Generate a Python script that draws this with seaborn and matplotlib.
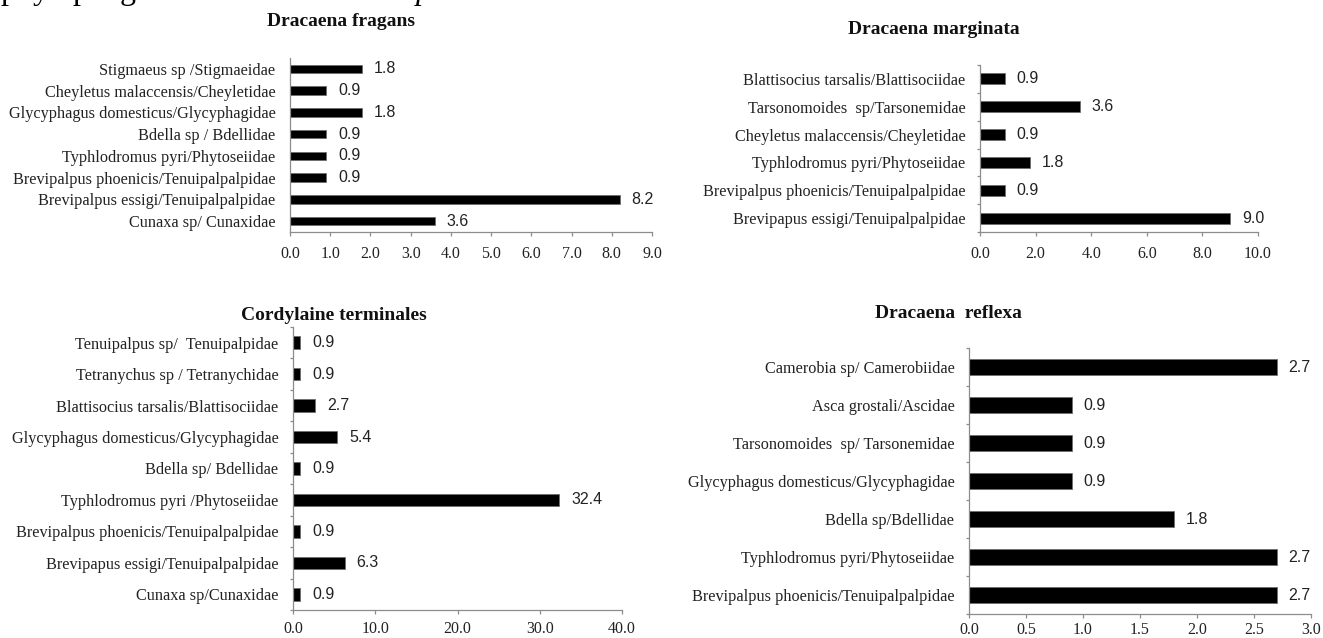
import matplotlib
matplotlib.use("Agg")
import matplotlib.pyplot as plt
import seaborn as sns
import numpy as np
import pandas as pd
from matplotlib.ticker import FixedLocator, FormatStrFormatter

sns.set_theme(style="white")
plt.rcParams["font.family"] = ["Liberation Serif", "DejaVu Serif"]
plt.rcParams["mathtext.fontset"] = "custom"
plt.rcParams["mathtext.rm"] = "Liberation Serif"
plt.rcParams["mathtext.it"] = "Liberation Serif:italic"

# ---- data -------------------------------------------------------------
fragans_species = [
    "Stigmaeus sp /Stigmaeidae",
    "Cheyletus malaccensis/Cheyletidae",
    "Glycyphagus domesticus/Glycyphagidae",
    "Bdella sp / Bdellidae",
    "Typhlodromus pyri/Phytoseiidae",
    "Brevipalpus phoenicis/Tenuipalpalpidae",
    "Brevipalpus essigi/Tenuipalpalpidae",
    "Cunaxa sp/ Cunaxidae",
]
fragans_values = [1.8, 0.9, 1.8, 0.9, 0.9, 0.9, 8.2, 3.6]

marginata_species = [
    "Blattisocius tarsalis/Blattisociidae",
    "Tarsonomoides  sp/Tarsonemidae",
    "Cheyletus malaccensis/Cheyletidae",
    "Typhlodromus pyri/Phytoseiidae",
    "Brevipalpus phoenicis/Tenuipalpalpidae",
    "Brevipapus essigi/Tenuipalpalpidae",
]
marginata_values = [0.9, 3.6, 0.9, 1.8, 0.9, 9.0]

cordyline_species = [
    "Tenuipalpus sp/  Tenuipalpidae",
    "Tetranychus sp / Tetranychidae",
    "Blattisocius tarsalis/Blattisociidae",
    "Glycyphagus domesticus/Glycyphagidae",
    "Bdella sp/ Bdellidae",
    "Typhlodromus pyri /Phytoseiidae",
    "Brevipalpus phoenicis/Tenuipalpalpidae",
    "Brevipapus essigi/Tenuipalpalpidae",
    "Cunaxa sp/Cunaxidae",
]
cordyline_values = [0.9, 0.9, 2.7, 5.4, 0.9, 32.4, 0.9, 6.3, 0.9]

reflexa_species = [
    "Camerobia sp/ Camerobiidae",
    "Asca grostali/Ascidae",
    "Tarsonomoides  sp/ Tarsonemidae",
    "Glycyphagus domesticus/Glycyphagidae",
    "Bdella sp/Bdellidae",
    "Typhlodromus pyri/Phytoseiidae",
    "Brevipalpus phoenicis/Tenuipalpalpidae",
]
reflexa_values = [2.7, 0.9, 0.9, 0.9, 1.8, 2.7, 2.7]

fragans_ticks = [0, 1, 2, 3, 4, 5, 6, 7, 8, 9]
marginata_ticks = [0, 2, 4, 6, 8, 10]
cordyline_ticks = [0, 10, 20, 30, 40]
reflexa_ticks = [0, 0.5, 1.0, 1.5, 2.0, 2.5, 3.0]

# ---- figure -----------------------------------------------------------
W, H = 1323, 638
fig = plt.figure(figsize=(W / 100, H / 100), dpi=100)

SPINE = "#8c8c8c"


def px_axes(left, right, top, bottom):
    return fig.add_axes([left / W, 1 - bottom / H, (right - left) / W, (bottom - top) / H])


def panel(ax, species, values, ticks, boundary_ticks=True, xpad=7):
    df = pd.DataFrame({"species": species, "value": values})
    sns.barplot(data=df, x="value", y="species", orient="h", color="black",
                saturation=1, width=0.4, edgecolor="#6e6e6e", linewidth=0.6, ax=ax)
    ax.set_xlim(ticks[0], ticks[-1])
    ax.set_ylim(len(species) - 0.5, -0.5)
    ax.set_xlabel("")
    ax.set_ylabel("")
    ax.xaxis.set_major_locator(FixedLocator(ticks))
    ax.xaxis.set_major_formatter(FormatStrFormatter("%.1f"))
    for s in ("top", "right"):
        ax.spines[s].set_visible(False)
    for s in ("left", "bottom"):
        ax.spines[s].set_color(SPINE)
        ax.spines[s].set_linewidth(0.9)
    ax.tick_params(axis="x", which="major", bottom=True, length=3, width=0.9,
                   color=SPINE, pad=xpad, labelsize=11.5, labelcolor="#222222")
    ax.tick_params(axis="y", which="major", left=False, length=0, pad=10.5,
                   labelsize=11.7, labelcolor="#222222")
    if boundary_ticks:
        ax.yaxis.set_minor_locator(FixedLocator(np.arange(-0.5, len(species), 1.0)))
        ax.tick_params(axis="y", which="minor", left=True, length=2.5, width=0.9,
                       color=SPINE)
    for container in ax.containers:
        ax.bar_label(container, fmt="%.1f", padding=8.5, fontsize=11.5,
                     family="Liberation Sans", color="#222222")


ax1 = px_axes(290, 652, 58, 232)
panel(ax1, fragans_species, fragans_values, fragans_ticks, boundary_ticks=False)

ax2 = px_axes(980, 1258, 65, 232)
panel(ax2, marginata_species, marginata_values, marginata_ticks)

ax3 = px_axes(293, 622, 327, 610)
panel(ax3, cordyline_species, cordyline_values, cordyline_ticks, xpad=5)

ax4 = px_axes(969, 1311, 348, 614)
panel(ax4, reflexa_species, reflexa_values, reflexa_ticks, xpad=2.5)

# panel titles
title_kw = dict(ha="center", va="center", fontsize=14, fontweight="bold", color="#111111")
fig.text(341 / W, 1 - 22 / H, "Dracaena fragans", **title_kw)
fig.text(934 / W, 1 - 29 / H, "Dracaena marginata", **title_kw)
fig.text(334 / W, 1 - 315 / H, "Cordylaine terminales", **title_kw)
fig.text(948 / W, 1 - 313 / H, "Dracaena  reflexa", **title_kw)

# running text line continuing from above the figure
fig.text(0, 1 + 0.5 / H,
         r"phytophagous mite collected $\mathit{B.\ phoenicis}$. Some",
         ha="left", va="baseline", fontsize=23, color="black")

fig.savefig("out.png", dpi=100)
